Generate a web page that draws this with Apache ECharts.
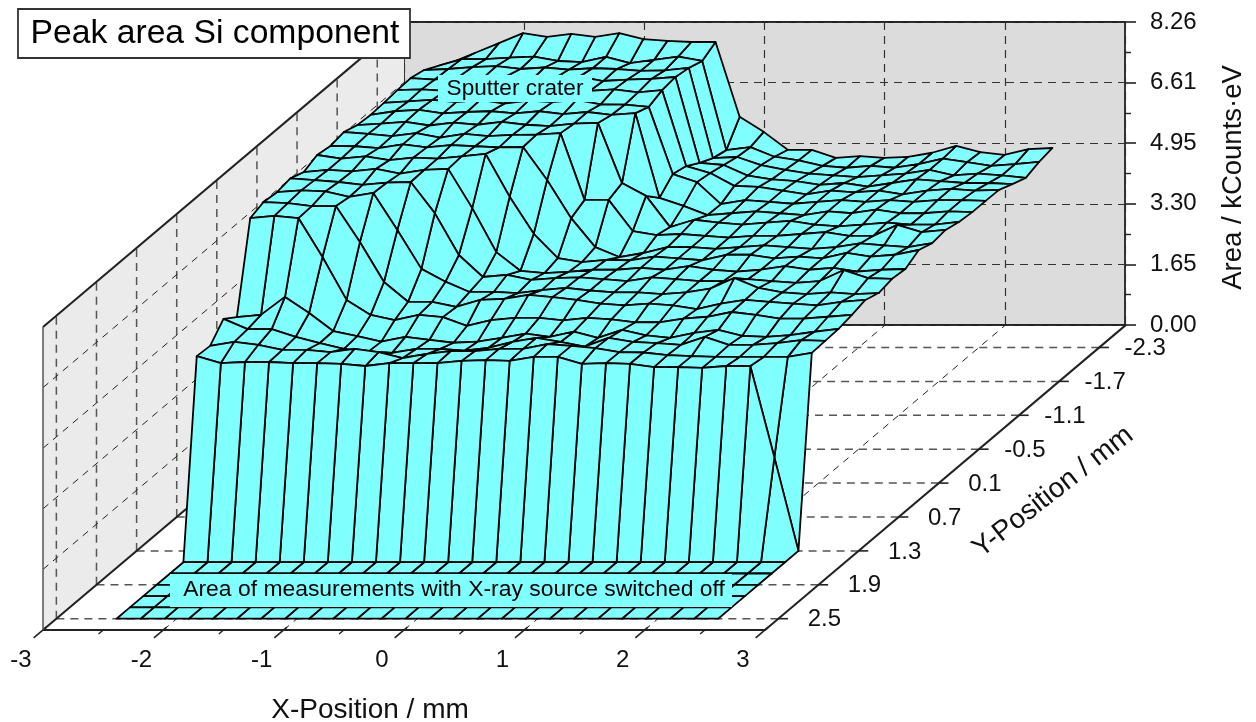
<!DOCTYPE html>
<html><head><meta charset="utf-8">
<style>html,body{margin:0;padding:0;background:#fff}#c{width:1256px;height:722px}</style>
<script src="https://cdn.jsdelivr.net/npm/echarts@6/dist/echarts.min.js"></script>
</head><body><div id="c"></div>
<script>
const xPositions=[-2.5,-2.3,-2.1,-1.9,-1.7,-1.5,-1.3,-1.1,-0.9,-0.7,-0.5,-0.3,-0.1,0.1,0.3,0.5,0.7,0.9,1.1,1.3,1.5,1.7,1.9,2.1,2.3,2.5];
const yPositions=[2.5,2.3,2.1,1.9,1.7,1.5,1.3,1.1,0.9,0.7,0.5,0.3,0.1,-0.1,-0.3,-0.5,-0.7,-0.9,-1.1,-1.3,-1.5,-1.7,-1.9,-2.1,-2.3,-2.5];
const xTicks=[-3,-2,-1,0,1,2,3];
const yTicks=[2.5,1.9,1.3,0.7,0.1,-0.5,-1.1,-1.7,-2.3];
const yTickLabels=['2.5','1.9','1.3','0.7','0.1','-0.5','-1.1','-1.7','-2.3'];
const zTicks=[1.652,3.304,4.956,6.608];
const zTickLabels=['0.00','1.65','3.30','4.95','6.61','8.26'];
const off=new Array(26).fill(0);
const z130=[5.31,5.12,5.15,5.15,5.12,5.12,5.10,5.04,5.12,5.12,5.12,5.18,5.20,5.18,5.29,5.29,5.10,5.12,5.10,5.01,5.01,4.99,5.04,5.04,2.55,0];
const z110=[5.28,5.39,5.31,5.17,5.17,5.11,5.20,5.11,4.95,5.06,5.14,5.14,5.20,5.20,5.33,5.28,5.22,5.11,5.10,5.03,5.00,4.98,4.98,4.98,4.98,5.09];
const z090=[5.71,5.43,5.43,5.22,5.05,4.89,4.81,4.78,4.89,4.89,4.84,4.92,5.08,5.19,5.08,4.95,5.19,5.08,5.05,5.00,5.22,5.00,5.00,5.05,5.13,5.11];
const z070=[5.45,5.51,6.00,5.56,5.07,4.93,4.78,4.91,4.83,4.75,4.78,4.88,5.00,4.91,5.05,4.88,5.10,4.95,4.88,5.02,5.10,4.94,4.91,4.96,5.05,5.13];
const z050=[7.84,7.90,7.84,6.78,5.61,5.20,5.06,5.20,5.14,4.90,5.06,5.12,5.12,5.05,5.12,5.08,5.00,5.00,5.10,5.15,5.28,5.20,5.10,5.10,5.15,5.20];
const z030=[7.97,7.94,7.86,7.86,6.88,5.79,5.25,5.25,5.11,5.30,5.33,5.44,5.38,5.30,5.20,5.15,5.20,5.15,5.05,5.20,5.30,5.25,5.20,5.15,5.25,5.30];
const z010=[7.93,7.98,7.95,7.80,7.91,6.90,5.84,5.49,5.21,5.21,5.18,5.26,5.32,5.25,5.20,5.20,5.15,5.20,5.30,5.59,5.32,5.20,5.15,5.20,5.15,5.18];
const zm010=[8.00,7.95,7.90,7.82,7.88,7.90,7.05,5.91,5.31,5.37,5.23,5.28,5.30,5.25,5.20,5.30,5.25,5.20,5.20,5.25,5.20,5.15,5.20,5.50,5.28,5.26];
const zm030=[7.86,7.92,7.88,7.95,7.82,7.92,7.95,6.88,5.68,5.17,5.11,5.14,5.20,5.20,5.25,5.20,5.30,5.20,5.15,5.20,5.30,5.20,5.25,5.15,5.20,5.22];
const zm050=[8.02,7.92,7.98,7.88,7.95,7.92,7.98,8.05,6.88,5.87,5.21,5.10,5.16,5.15,5.25,5.20,5.15,5.30,5.30,5.20,5.25,5.20,5.35,5.25,5.30,5.43];
const zm070=[7.96,7.95,7.90,8.00,7.92,7.98,7.95,7.92,7.93,7.03,5.99,5.20,4.93,5.04,5.20,5.20,5.15,5.20,5.25,5.20,5.15,5.20,5.30,5.25,5.20,5.31];
const zm090=[8.03,7.98,7.92,8.00,7.88,7.98,7.92,7.95,7.96,8.00,6.18,6.18,5.33,5.22,5.25,5.20,5.15,5.20,5.20,5.25,5.30,5.20,5.20,5.50,5.30,5.36];
const zm110=[7.91,7.95,8.00,7.90,7.98,7.92,8.00,7.92,7.88,7.95,7.97,6.33,5.98,5.13,5.33,5.25,5.20,5.25,5.30,5.20,5.15,5.20,5.25,5.20,5.20,5.27];
const zm130=[7.88,7.98,8.02,7.92,7.96,7.98,7.92,7.98,7.90,7.96,7.88,7.93,5.62,5.40,5.15,5.20,5.25,5.20,5.15,5.25,5.20,5.30,5.20,5.20,5.25,5.23];
const zm150=[7.90,7.94,7.98,7.92,7.98,7.88,7.96,7.92,7.98,7.86,7.85,7.79,5.96,5.74,5.14,5.25,5.20,5.15,5.20,5.25,5.20,5.25,5.20,5.25,5.25,5.23];
const zm170=[7.94,7.96,7.92,8.00,7.92,7.96,7.98,7.86,7.92,7.96,7.88,7.94,5.87,5.68,5.33,5.30,5.20,5.10,5.20,5.15,5.20,5.10,5.20,5.25,5.20,5.22];
const zm190=[7.96,7.92,8.00,7.96,8.02,7.90,7.96,8.00,7.88,7.92,7.94,7.99,5.65,5.59,5.30,5.20,5.15,5.05,5.10,5.00,5.10,5.20,5.15,5.10,5.10,5.07];
const zm210=[7.87,7.90,7.95,7.98,7.90,7.94,7.88,7.92,7.90,7.85,7.86,7.93,5.47,5.50,5.28,5.15,5.05,5.00,4.95,5.00,5.05,5.15,5.00,5.05,5.00,4.93];
const zm230=[7.67,7.86,7.86,7.90,7.93,7.81,7.78,7.92,7.75,7.84,7.93,7.81,5.38,5.46,5.20,5.10,4.95,4.90,4.95,4.90,5.00,5.15,5.05,4.95,5.00,5.06];
const zm250=[7.45,7.72,7.99,8.26,8.16,8.24,8.16,8.26,8.10,8.05,8.02,8.02,5.98,5.57,5.08,5.08,4.86,4.91,4.86,4.89,5.00,5.19,5.02,4.94,5.10,5.13];
const surfaceRows=[off,off,off,off,off,off,z130,z110,z090,z070,z050,z030,z010,zm010,zm030,zm050,zm070,zm090,zm110,zm130,zm150,zm170,zm190,zm210,zm230,zm250];

const Y_FRONT=2.7, Y_BACK=-2.7, Z_MAX=8.26, X_MIN=-3, X_MAX=3;
const KX=3/5.4, KZ=8.318/5.4;          // oblique projection of depth onto the axes
const font='"Liberation Sans",Arial,sans-serif';
const CYAN='#80ffff';
function P(api,x,y,z){const d=Y_FRONT-y;return api.coord([x+d*KX,z+d*KZ]);}
function seg(api,a,b,style){const p=P(api,...a),q=P(api,...b);
  return {type:'line',shape:{x1:p[0],y1:p[1],x2:q[0],y2:q[1]},style:Object.assign({fill:null},style)};}

const cells=[];
for(let r=yPositions.length-2;r>=0;r--)for(let c=xPositions.length-2;c>=0;c--)cells.push([c,r]);

function renderCell(params,api){
  const c=api.value(0),r=api.value(1);
  const pts=[[c,r],[c+1,r],[c+1,r+1],[c,r+1]].map(([i,j])=>P(api,xPositions[i],yPositions[j],surfaceRows[j][i]));
  return {type:'polygon',shape:{points:pts},style:{fill:CYAN,stroke:'#000',lineWidth:1.8,lineJoin:'round'}};
}
function renderFrame(params,api){
  const kids=[];
  const wall=[[X_MIN,Y_FRONT,0],[X_MIN,Y_FRONT,Z_MAX],[X_MIN,Y_BACK,Z_MAX],[X_MIN,Y_BACK,0]].map(a=>P(api,...a));
  kids.push({type:'polygon',shape:{points:wall},style:{fill:'#ebebeb',stroke:null}});
  const grayDash={stroke:'#555',lineWidth:1.5,lineDash:[8,6]};
  const thinDash={stroke:'#222',lineWidth:1,lineDash:[7,6]};
  yTicks.forEach(y=>{
    kids.push(seg(api,[X_MIN,y,0],[X_MIN,y,Z_MAX],grayDash));
    kids.push(seg(api,[X_MIN,y,0],[X_MAX,y,0],grayDash));
    kids.push(seg(api,[X_MAX,y,0],[X_MAX+0.08,y,0],{stroke:'#222',lineWidth:1.6}));
  });
  zTicks.forEach(z=>kids.push(seg(api,[X_MIN,Y_FRONT,z],[X_MIN,Y_BACK,z],thinDash)));
  xTicks.forEach(x=>{
    kids.push(seg(api,[x,Y_FRONT,0],[x,Y_BACK,0],thinDash));
    kids.push(seg(api,[x,Y_FRONT-0.05,0],[x,Y_FRONT+0.14,0],{stroke:'#222',lineWidth:1.6}));
    if(x<X_MAX)kids.push(seg(api,[x+0.5,Y_FRONT,0],[x+0.5,Y_FRONT+0.07,0],{stroke:'#222',lineWidth:1.4}));
  });
  const edge={stroke:'#222',lineWidth:2};
  kids.push(seg(api,[X_MIN,Y_FRONT,0],[X_MIN,Y_BACK,0],edge));
  kids.push(seg(api,[X_MAX,Y_FRONT,0],[X_MAX,Y_BACK,0],edge));
  kids.push(seg(api,[X_MIN,Y_FRONT,Z_MAX],[X_MIN,Y_BACK,Z_MAX],edge));
  kids.push(seg(api,[X_MIN,Y_FRONT,0],[X_MIN,Y_FRONT,Z_MAX],{stroke:'#555',lineWidth:1.5}));
  yTicks.forEach((y,i)=>{
    const p=P(api,X_MAX,y,0);
    kids.push({type:'text',x:p[0]+46,y:p[1]+1,style:{text:yTickLabels[i],font:'24px '+font,fill:'#111',textAlign:'center',textVerticalAlign:'middle'}});
  });
  return {type:'group',children:kids};
}

const chart=echarts.init(document.getElementById('c'),null,{renderer:'canvas'});
chart.setOption({
  animation:false,
  backgroundColor:'#fff',
  grid:[
    {left:43,width:722,top:327,height:303,containLabel:false,outerBoundsMode:'none'},
    {left:404,width:721,top:22,height:303,show:true,backgroundColor:'#dcdcdc',borderColor:'#222',borderWidth:1.8,outerBoundsMode:'none'}
  ],
  xAxis:[
    {gridIndex:0,type:'value',min:X_MIN,max:X_MAX,interval:1,splitLine:{show:false},
     axisLine:{onZero:false,lineStyle:{color:'#222',width:2}},axisTick:{show:false},
     axisLabel:{color:'#111',fontSize:24,fontFamily:font,margin:18,padding:[0,44,0,0],showMinLabel:true,showMaxLabel:true},
     name:'X-Position / mm',nameLocation:'middle',nameGap:66,
     nameTextStyle:{color:'#111',fontSize:28,fontFamily:font,padding:[0,68,0,0]}},
    {gridIndex:1,type:'value',min:X_MIN,max:X_MAX,interval:1,
     axisLine:{show:false,onZero:false},axisTick:{show:false},axisLabel:{show:false},
     splitLine:{show:true,lineStyle:{color:'#333',width:1.2,type:[8,6]}}}
  ],
  yAxis:[
    {gridIndex:0,type:'value',min:0,max:Z_MAX,show:false},
    {gridIndex:1,type:'value',min:0,max:Z_MAX,interval:1.652,position:'right',
     axisLine:{show:false,onZero:false},
     axisTick:{show:true,length:11,lineStyle:{color:'#222',width:1.6}},
     minorTick:{show:true,splitNumber:2,length:6,lineStyle:{color:'#222',width:1.4}},
     axisLabel:{color:'#111',fontSize:24,fontFamily:font,margin:25,padding:[3,0,0,0],showMinLabel:true,showMaxLabel:true,
       formatter:(v,i)=>zTickLabels[Math.round(v/1.652)]},
     splitLine:{show:true,lineStyle:{color:'#333',width:1.2,type:[8,6]}},
     name:'Area / kCounts·eV',nameLocation:'middle',nameRotate:90,nameGap:94,
     nameTextStyle:{color:'#111',fontSize:27.5,fontFamily:font,padding:[0,8,0,0]}}
  ],
  series:[
    {type:'custom',coordinateSystem:'cartesian2d',xAxisIndex:0,yAxisIndex:0,z:1,silent:true,clip:false,
     data:[[0,0]],renderItem:renderFrame},
    {type:'custom',coordinateSystem:'cartesian2d',xAxisIndex:0,yAxisIndex:0,z:2,silent:true,clip:false,
     data:cells,encode:{x:0,y:1},renderItem:renderCell}
  ],
  graphic:[
    {type:'rect',z:100,shape:{x:18,y:9,width:392,height:49},style:{fill:'#fff',stroke:'#333',lineWidth:1.8}},
    {type:'text',z:101,x:215,y:34,style:{text:'Peak area Si component',font:'33.7px '+font,fill:'#000',textAlign:'center',textVerticalAlign:'middle'}},
    {type:'rect',z:100,shape:{x:438,y:75,width:154,height:27},style:{fill:CYAN,stroke:null}},
    {type:'text',z:101,x:515,y:89,style:{text:'Sputter crater',font:'22.6px '+font,fill:'#000',textAlign:'center',textVerticalAlign:'middle'}},
    {type:'rect',z:100,shape:{x:170,y:574,width:562,height:33},style:{fill:CYAN,stroke:null}},
    {type:'text',z:101,x:454,y:590,style:{text:'Area of measurements with X-ray source switched off',font:'22.9px '+font,fill:'#000',textAlign:'center',textVerticalAlign:'middle'}},
    {type:'text',z:101,x:1053,y:492,rotation:38*Math.PI/180,style:{text:'Y-Position / mm',font:'28px '+font,fill:'#111',textAlign:'center',textVerticalAlign:'middle'}}
  ]
});
</script></body></html>
